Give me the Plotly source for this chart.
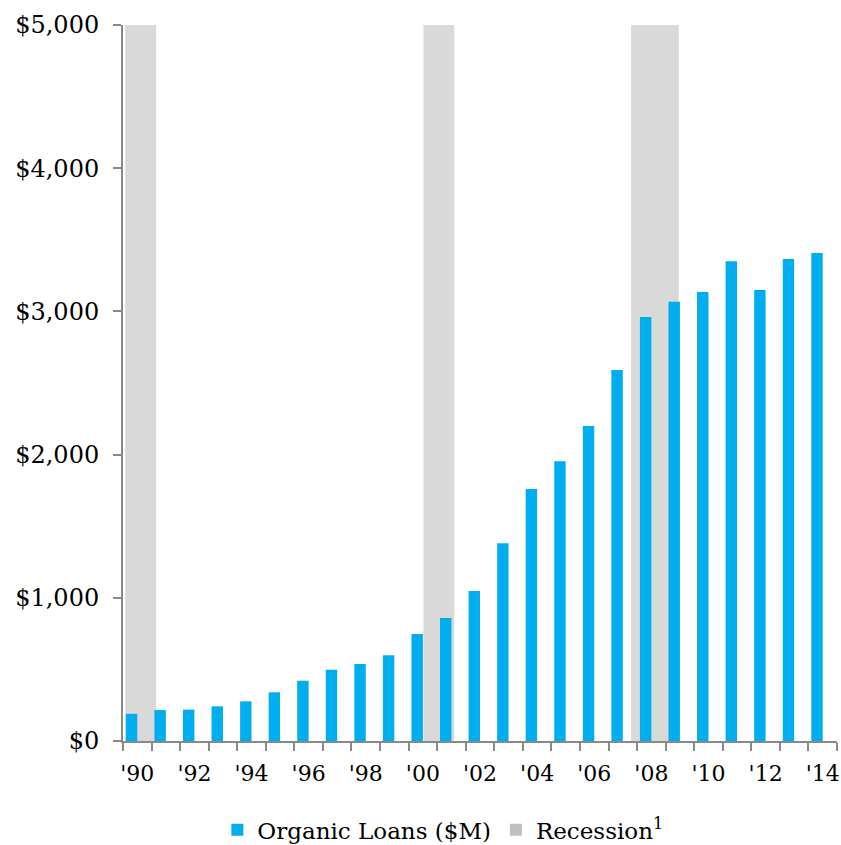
import plotly.graph_objects as go

# Organic loans by year ($M)
years = list(range(1990, 2015))
loans = [190, 216, 219, 242, 277, 340, 421, 498, 538, 598,
         747, 859, 1047, 1381, 1760, 1953, 2200, 2591, 2961, 3068,
         3135, 3350, 3149, 3366, 3408]

# Recession periods (fractional year positions on the axis)
recession_start = [1989.58, 2000.02, 2007.29]
recession_end = [1990.66, 2001.10, 2008.96]

tick_years = list(range(1990, 2015, 2))
tick_labels = ["'" + str(y)[2:] for y in tick_years]
y_ticks = [0, 1000, 2000, 3000, 4000, 5000]
y_labels = ["$0", "$1,000", "$2,000", "$3,000", "$4,000", "$5,000"]

FONT = "DejaVu Serif"
AXIS = "#898989"
TEXT = "#000000"

fig = go.Figure()
fig.add_trace(go.Bar(
    x=years, y=loans, name="Organic Loans ($M)",
    marker=dict(color="#00AEEF", line=dict(width=0)),
    width=0.4, offset=-0.4,
))
# legend entry for the shaded recession bands
fig.add_trace(go.Bar(
    x=[1990], y=[0], name="Recession<sup>1</sup>",
    marker=dict(color="#BFBFBF", line=dict(width=0)),
    width=0.4, offset=-0.4, hoverinfo="skip",
))

for s, e in zip(recession_start, recession_end):
    fig.add_shape(type="rect", xref="x", yref="paper", x0=s, x1=e, y0=0, y1=1,
                  fillcolor="#D9D9D9", line=dict(width=0), layer="below")

fig.update_layout(
    width=841, height=845,
    margin=dict(l=123, r=4, t=25, b=104, autoexpand=False),
    paper_bgcolor="white", plot_bgcolor="white",
    barmode="overlay",
    font=dict(family=FONT, size=23, color=TEXT),
    showlegend=True,
    legend=dict(orientation="h", x=0.448, xanchor="center",
                yref="container", y=0.018, yanchor="middle",
                font=dict(family=FONT, size=23, color=TEXT), traceorder="normal"),
    xaxis=dict(
        range=[1989.5, 2014.5], showgrid=False, zeroline=False, automargin=False,
        showline=True, linecolor=AXIS, linewidth=2,
        tickmode="array", tickvals=tick_years, ticktext=tick_labels,
        ticks="outside", ticklen=0, tickfont=dict(family=FONT, size=22, color=TEXT),
        ticklabelstandoff=12, ticklabeloverflow="allow",
        minor=dict(tickmode="array", tickvals=[y - 0.5 for y in years] + [2014.5],
                   ticks="outside", ticklen=8, tickcolor=AXIS, tickwidth=2),
    ),
    yaxis=dict(
        range=[0, 5000], showgrid=False, zeroline=False, automargin=False,
        showline=True, linecolor=AXIS, linewidth=2,
        tickmode="array", tickvals=y_ticks, ticktext=y_labels,
        ticks="outside", ticklen=8, tickcolor=AXIS, tickwidth=2,
        tickfont=dict(family=FONT, size=24, color=TEXT), ticklabelstandoff=9,
    ),
)

fig.write_html("out.html")
